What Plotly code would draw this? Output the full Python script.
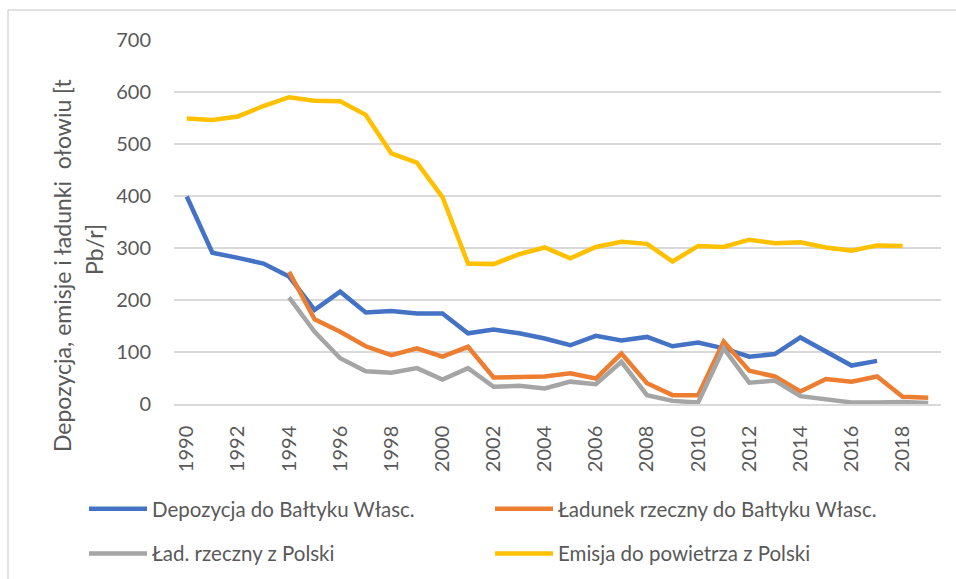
import plotly.graph_objects as go

years = list(range(1990, 2020))

depozycja = [399, 291, 281, 270, 245, 181, 216, 176, 179, 174, 174, 136, 143, 136, 126,
             113, 131, 122, 129, 111, 118, 107, 91, 96, 128, 101, 74, 83, None, None]
ladunek = [None, None, None, None, 254, 163, 139, 111, 94, 107, 91, 110, 51, 51, 53,
           59, 49, 97, 40, 17, 17, 120, 64, 53, 24, 48, 43, 53, 14, 12]
lad_polska = [None, None, None, None, 205, 139, 88, 63, 60, 69, 47, 69, 33, 35, 30,
              43, 38, 81, 17, 6, 3, 107, 41, 45, 15, 10, 3, 3, 4, 2]
emisja = [549, 546, 553, 573, 590, 583, 582, 556, 482, 464, 398, 270, 269, 288, 301,
          280, 302, 312, 308, 274, 304, 302, 316, 309, 311, 301, 295, 305, 304, None]

names = ["Depozycja do Bałtyku Własc.", "Ładunek rzeczny do Bałtyku Własc.",
         "Ład. rzeczny z Polski", "Emisja do powietrza z Polski"]
colors = ["#4472C4", "#ED7D31", "#A5A5A5", "#FFC000"]
series = [depozycja, ladunek, lad_polska, emisja]
legends = ["legend", "legend2", "legend", "legend2"]

y_ticks = [0, 100, 200, 300, 400, 500, 600, 700]
x_ticks = list(range(1990, 2020, 2))
y_title_1 = "Depozycja, emisje i ładunki  ołowiu [t"
y_title_2 = "Pb/r]"

FONT = "Lato"
TXT = "#595959"

fig = go.Figure()
for i, (nm, col, ys, lg) in enumerate(zip(names, colors, series, legends)):
    fig.add_trace(go.Scatter(x=years, y=ys, name=nm, mode="lines",
                             line=dict(color=col, width=4.5),
                             legend=lg, legendgroup=str(i)))

W, H = 956, 579
ml, mr, mt, mb = 174, 15, 40, 175
pw = W - ml - mr
ph = H - mt - mb

def px_x(p):
    return (p - ml) / pw

def px_y(p):
    return (H - mb - p) / ph

leg_font = dict(family=FONT, size=20.5, color=TXT)

fig.update_layout(
    width=W, height=H,
    margin=dict(l=ml, r=mr, t=mt, b=mb, autoexpand=False),
    paper_bgcolor="white", plot_bgcolor="white",
    font=dict(family=FONT, size=20, color=TXT),
    xaxis=dict(range=[1989.5, 2019.5], tickmode="array", tickvals=x_ticks,
               ticktext=[str(v) for v in x_ticks], tickangle=-90,
               showgrid=False, showline=True, linecolor="#D9D9D9", linewidth=1.5,
               ticks="", ticklabelstandoff=12, zeroline=False, automargin=False,
               tickfont=dict(family=FONT, size=20, color=TXT)),
    yaxis=dict(range=[0, 700], tickmode="array", tickvals=y_ticks,
               showgrid=True, gridcolor="#D9D9D9", gridwidth=1.5,
               showline=False, zeroline=False, ticks="", ticklabelstandoff=22,
               automargin=False,
               tickfont=dict(family=FONT, size=20, color=TXT)),
    legend=dict(x=px_x(84), y=px_y(489), xanchor="left", yanchor="top",
                orientation="v", tracegroupgap=15, itemwidth=58,
                font=leg_font, bgcolor="rgba(0,0,0,0)"),
    legend2=dict(x=px_x(490), y=px_y(489), xanchor="left", yanchor="top",
                 orientation="v", tracegroupgap=15, itemwidth=58,
                 font=leg_font, bgcolor="rgba(0,0,0,0)"),
    showlegend=True,
)

fig.add_annotation(text=y_title_1, xref="paper", yref="paper",
                   x=px_x(62), y=px_y(265), textangle=-90, showarrow=False,
                   xanchor="center", yanchor="middle",
                   font=dict(family=FONT, size=23, color=TXT))
fig.add_annotation(text=y_title_2, xref="paper", yref="paper",
                   x=px_x(94), y=px_y(250), textangle=-90, showarrow=False,
                   xanchor="center", yanchor="middle",
                   font=dict(family=FONT, size=23, color=TXT))

# chart frame (left and top edges visible)
fig.add_shape(type="line", xref="paper", yref="paper",
              x0=px_x(8), x1=px_x(8), y0=px_y(10), y1=px_y(H + 5),
              line=dict(color="#D9D9D9", width=1.5))
fig.add_shape(type="line", xref="paper", yref="paper",
              x0=px_x(8), x1=px_x(W + 5), y0=px_y(10), y1=px_y(10),
              line=dict(color="#D9D9D9", width=1.5))

fig.write_html("out.html", config={"displayModeBar": False},
               post_script="document.body.style.margin='0';document.body.style.overflow='hidden';")
